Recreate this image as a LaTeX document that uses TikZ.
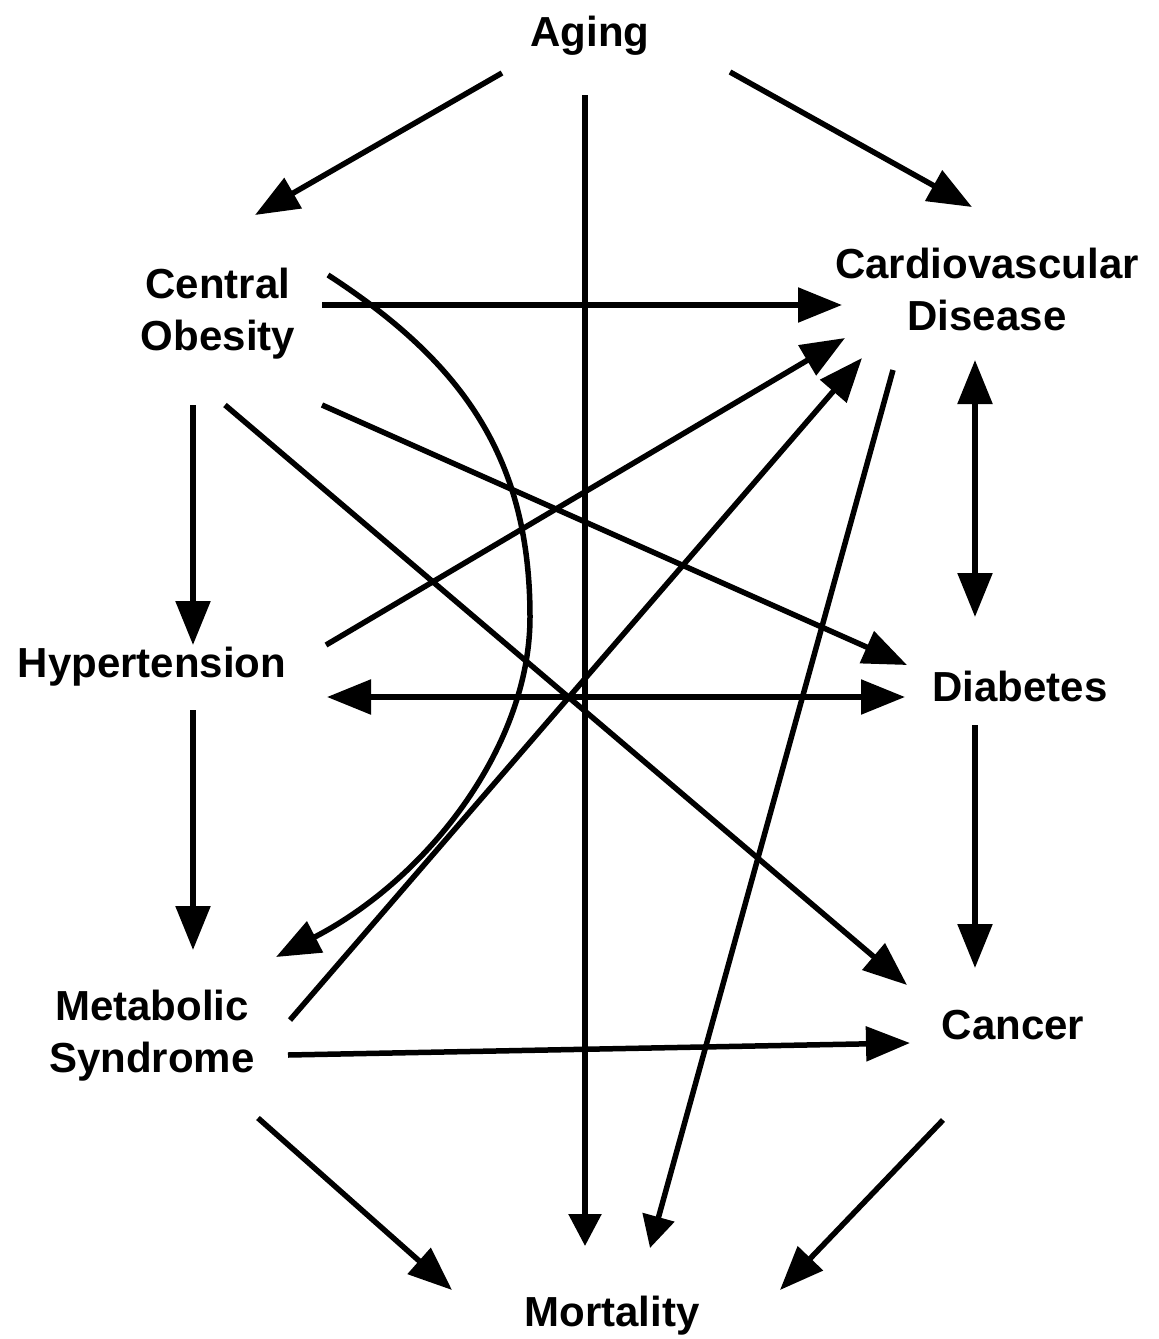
\documentclass[tikz,border=0pt]{standalone}
\usepackage{fontspec}
\setmainfont{Liberation Sans}
\usetikzlibrary{arrows.meta}
\begin{document}
\begin{tikzpicture}[x=1pt,y=-1pt,
  lbl/.style={font=\fontsize{42}{52}\selectfont\bfseries, align=center, inner sep=0pt},
  arr/.style={line width=5.5pt, -{Triangle[length=44pt,width=34pt]}},
  sarr/.style={line width=5.5pt, -{Triangle[length=32pt,width=32pt]}},
  darr/.style={line width=5.5pt, {Triangle[length=44pt,width=34pt]}-{Triangle[length=44pt,width=34pt]}}]
\useasboundingbox (0,0) rectangle (1159,1339);
\fill[white] (0,0) rectangle (1159,1339);

% labels
\node[lbl] (aging) at (590,36) {Aging};
\node[lbl] (co) at (218,314) {Central\\Obesity};
\node[lbl] (cvd) at (987,289) {Cardiovascular\\Disease};
\node[lbl] (hyp) at (152,667) {Hypertension};
\node[lbl] (dia) at (1020,686) {Diabetes};
\node[lbl] (ms) at (152,1036) {Metabolic\\Syndrome};
\node[lbl] (can) at (1013,1025) {Cancer};
\node[lbl] (mort) at (612,1316) {Mortality};

% endpoints
\coordinate (a1) at (502,73);   \coordinate (a1e) at (255,215);
\coordinate (a2) at (730,72);   \coordinate (a2e) at (972,207);
\coordinate (a3) at (585,95);   \coordinate (a3e) at (585,1246);
\coordinate (c1) at (322,305);  \coordinate (c1e) at (842,305);
\coordinate (c2) at (328,275);  \coordinate (c2m) at (530,617); \coordinate (c2e) at (276,957);
\coordinate (c3) at (322,405);  \coordinate (c3e) at (907,665);
\coordinate (c4) at (225,405);  \coordinate (c4e) at (907,985);
\coordinate (c5) at (193,405);  \coordinate (c5e) at (193,645);
\coordinate (h1) at (326,645);  \coordinate (h1e) at (845,338);
\coordinate (h2) at (193,710);  \coordinate (h2e) at (193,950);
\coordinate (hd1) at (327,697); \coordinate (hd2) at (905,697);
\coordinate (m1) at (290,1020); \coordinate (m1e) at (862,358);
\coordinate (m2) at (288,1055); \coordinate (m2e) at (910,1043);
\coordinate (m3) at (258,1118); \coordinate (m3e) at (452,1290);
\coordinate (v1) at (893,370);  \coordinate (v1e) at (650,1248);
\coordinate (vd1) at (975,360); \coordinate (vd2) at (975,617);
\coordinate (d1) at (975,725);  \coordinate (d1e) at (975,968);
\coordinate (k1) at (943,1120); \coordinate (k1e) at (780,1290);

% connectors
\draw[arr] (a1) -- (a1e);
\draw[arr] (a2) -- (a2e);
\draw[sarr] (a3) -- (a3e);
\draw[arr] (c1) -- (c1e);
\draw[arr] (c2) .. controls (462,362) and (530,457) .. (c2m)
              .. controls (530,745) and (429,878) .. (c2e);
\draw[arr] (c3) -- (c3e);
\draw[arr] (c4) -- (c4e);
\draw[arr] (c5) -- (c5e);
\draw[arr] (h1) -- (h1e);
\draw[arr] (h2) -- (h2e);
\draw[darr] (hd1) -- (hd2);
\draw[arr] (m1) -- (m1e);
\draw[arr] (m2) -- (m2e);
\draw[arr] (m3) -- (m3e);
\draw[sarr] (v1) -- (v1e);
\draw[darr] (vd1) -- (vd2);
\draw[arr] (d1) -- (d1e);
\draw[arr] (k1) -- (k1e);
\end{tikzpicture}
\end{document}
